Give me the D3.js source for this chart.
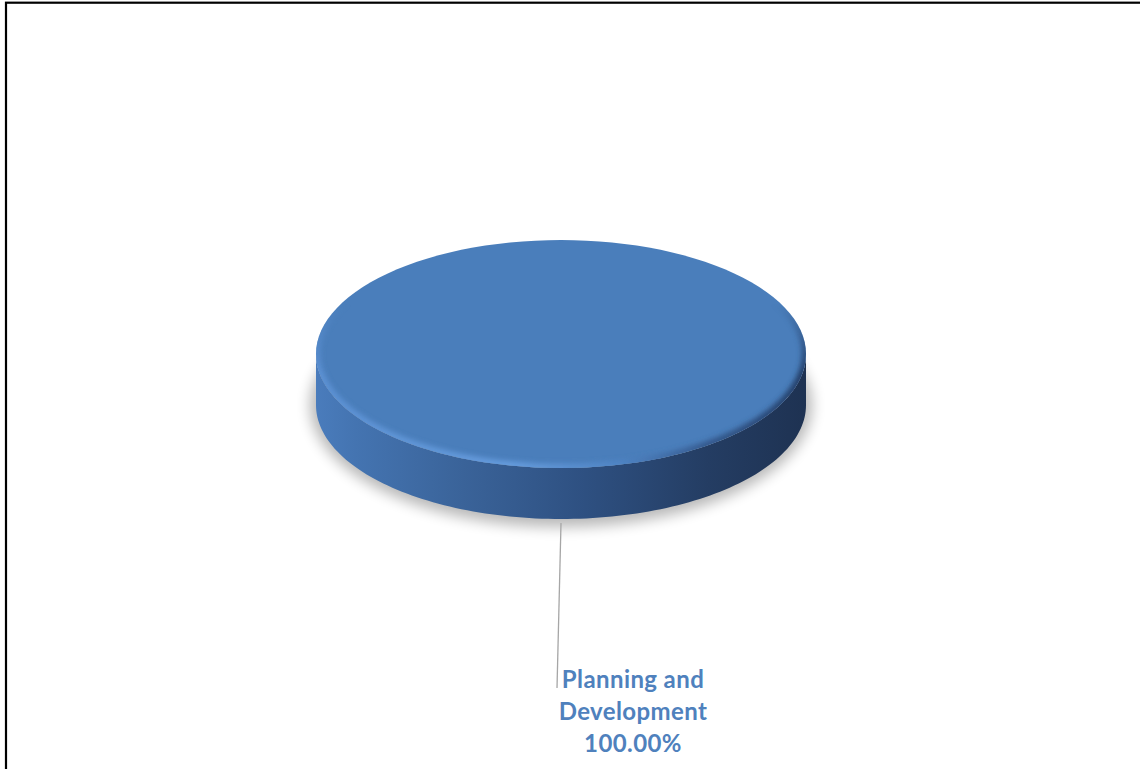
<!DOCTYPE html>
<html>
<head>
<meta charset="utf-8">
<script src="https://cdn.jsdelivr.net/npm/d3@7"></script>
<style>
  html, body { margin: 0; padding: 0; background: #fff; }
  svg { display: block; }
</style>
</head>
<body>
<svg id="chart" width="1140" height="769"></svg>
<script>
// Sector data for the 3-D pie
const categories = ["Planning and Development"];
const values = [100];
const sliceColors = ["#4a7ebb"];

const W = 1140, H = 769;
const cx = 561, cy = 354;      // centre of the top face
const rx = 245, ry = 114;      // projected radii of the top face
const depth = 51;              // wall thickness

const svg = d3.select("#chart");
const defs = svg.append("defs");

// Chart frame
svg.append("rect")
  .attr("x", 6).attr("y", 2.7)
  .attr("width", W + 40).attr("height", H + 40)
  .attr("fill", "#fff")
  .attr("stroke", "#000").attr("stroke-width", 2.2);

const total = d3.sum(values);
const pct = d3.format(".2%");
const pie = d3.pie().sort(null).value(d => d)(values);

// Projection of a pie angle (0 at top, clockwise) onto the tilted ellipse
const px = a => cx + rx * Math.sin(a);
const py = (a, dz = 0) => cy - ry * Math.cos(a) + dz;
const arcPts = (a0, a1, dz = 0) => d3.range(0, 121).map(i => {
  const a = a0 + (a1 - a0) * i / 120;
  return [px(a), py(a, dz)];
});
const line = d3.line();

// Filters: soft drop shadow and bevel blur
const sh = defs.append("filter").attr("id", "shadow")
  .attr("x", "-20%").attr("y", "-30%").attr("width", "140%").attr("height", "160%");
sh.append("feGaussianBlur").attr("stdDeviation", 7);
const bv = defs.append("filter").attr("id", "bevel")
  .attr("x", "-10%").attr("y", "-10%").attr("width", "120%").attr("height", "120%");
bv.append("feGaussianBlur").attr("stdDeviation", 2.5);

// Wall gradient: lit on the left, falling into shade on the right
const wallGrad = defs.append("linearGradient").attr("id", "wallGrad")
  .attr("gradientUnits", "userSpaceOnUse")
  .attr("x1", cx - rx).attr("x2", cx + rx).attr("y1", 0).attr("y2", 0);
[[0, "#4a7cbc"], [0.08, "#4474b1"], [0.3, "#3a6399"], [0.55, "#2e5081"],
 [0.8, "#243d63"], [1, "#1e3252"]].forEach(([o, c]) =>
  wallGrad.append("stop").attr("offset", o).attr("stop-color", c));

// Rim bevel gradient on the top face
const rimGrad = defs.append("linearGradient").attr("id", "rimGrad")
  .attr("gradientUnits", "userSpaceOnUse")
  .attr("x1", cx - rx).attr("x2", cx + rx).attr("y1", 0).attr("y2", 0);
[[0, "#5b90d2"], [0.4, "#659bdc"], [0.62, "#4f84c4"], [0.8, "#35598d"],
 [1, "#24406a"]].forEach(([o, c]) =>
  rimGrad.append("stop").attr("offset", o).attr("stop-color", c));

// Vertical fade so the bevel only shows on the near half of the rim
const fadeGrad = defs.append("linearGradient").attr("id", "fadeGrad")
  .attr("gradientUnits", "userSpaceOnUse")
  .attr("x1", 0).attr("x2", 0).attr("y1", cy - 50).attr("y2", cy + 20);
fadeGrad.append("stop").attr("offset", 0).attr("stop-color", "#fff").attr("stop-opacity", 0);
fadeGrad.append("stop").attr("offset", 1).attr("stop-color", "#fff").attr("stop-opacity", 1);
defs.append("mask").attr("id", "rimMask")
  .attr("maskUnits", "userSpaceOnUse")
  .attr("x", 0).attr("y", 0).attr("width", W).attr("height", H)
  .append("rect").attr("x", 0).attr("y", 0).attr("width", W).attr("height", H)
  .attr("fill", "url(#fadeGrad)");

// Shadow under the disc
svg.append("ellipse")
  .attr("cx", cx).attr("cy", cy + depth)
  .attr("rx", rx + 6).attr("ry", ry + 8)
  .attr("fill", "#000").attr("opacity", 0.28)
  .attr("filter", "url(#shadow)");

const g = svg.append("g");

// Outer walls: only the front half of the ellipse is visible
pie.forEach(s => {
  const a0 = Math.max(s.startAngle, Math.PI / 2);
  const a1 = Math.min(s.endAngle, 3 * Math.PI / 2);
  if (a1 <= a0) return;
  const top = arcPts(a0, a1);
  const bot = arcPts(a0, a1, depth).reverse();
  g.append("path")
    .attr("d", line(top.concat(bot)) + "Z")
    .attr("fill", "url(#wallGrad)");
});

// Top faces
pie.forEach((s, i) => {
  const full = s.endAngle - s.startAngle >= 2 * Math.PI - 1e-6;
  const pts = arcPts(s.startAngle, s.endAngle);
  const d = full ? line(pts) + "Z" : line([[cx, cy]].concat(pts)) + "Z";
  const cid = "topClip" + i;
  defs.append("clipPath").attr("id", cid).append("path").attr("d", d);
  g.append("path").attr("d", d).attr("fill", sliceColors[i % sliceColors.length]);

  // Rounded rim: blurred gradient stroke kept inside the face
  g.append("g").attr("clip-path", `url(#${cid})`)
    .append("g").attr("mask", "url(#rimMask)")
    .append("path").attr("d", d)
    .attr("fill", "none")
    .attr("stroke", "url(#rimGrad)").attr("stroke-width", 9)
    .attr("filter", "url(#bevel)");
});

// Data label with leader line
pie.forEach((s, i) => {
  const mid = (s.startAngle + s.endAngle) / 2;
  const x0 = px(mid), y0 = py(mid, depth) + 4;
  const lx = 633, ly = 688;
  const words = categories[i].split(" ");
  const lines = [words.slice(0, 2).join(" "), words.slice(2).join(" "),
                 pct(s.value / total)];
  svg.append("line")
    .attr("x1", x0).attr("y1", y0)
    .attr("x2", lx - 76).attr("y2", ly)
    .attr("stroke", "#a6a6a6").attr("stroke-width", 1.3);
  const t = svg.append("text")
    .attr("x", lx).attr("y", ly)
    .attr("text-anchor", "middle")
    .attr("font-family", "Lato, 'Open Sans', sans-serif")
    .attr("font-weight", "bold").attr("font-size", 24)
    .attr("letter-spacing", 0.4)
    .attr("fill", "#4f81bd");
  lines.forEach((l, k) => t.append("tspan").attr("x", lx).attr("dy", k ? 32 : 0).text(l));
});
</script>
</body>
</html>
